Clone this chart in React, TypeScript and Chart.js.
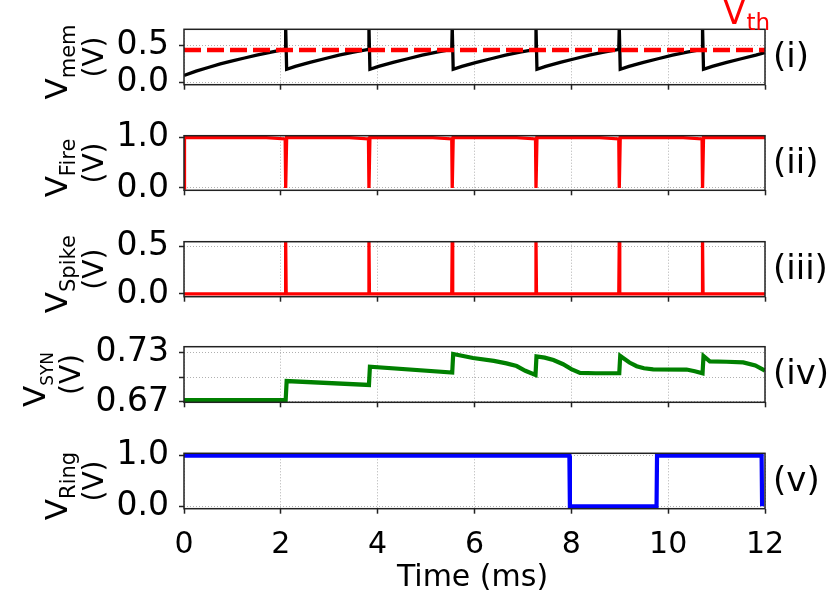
import React, { useEffect, useRef } from "react";
import { Chart, registerables } from "chart.js";

Chart.register(...registerables);

// ---------------- data ----------------
const xTicks = [0, 2, 4, 6, 8, 10, 12];
const xTickLabels = ["0", "2", "4", "6", "8", "10", "12"];
const xTitle = "Time (ms)";

const vthValue = 0.44;
const vthLabelMain = "V";
const vthLabelSub = "th";

const vmemTime = [
  0, 0.25, 0.5, 0.75, 1.0, 1.25, 1.5, 1.75, 2.0, 2.09, 2.1,
  2.12, 2.3, 2.6, 2.9, 3.2, 3.5, 3.81, 3.82,
  3.84, 4.02, 4.32, 4.62, 4.92, 5.22, 5.53, 5.54,
  5.56, 5.74, 6.04, 6.34, 6.64, 6.94, 7.26, 7.27,
  7.29, 7.47, 7.77, 8.07, 8.37, 8.67, 8.98, 8.99,
  9.01, 9.19, 9.49, 9.79, 10.09, 10.39, 10.7, 10.71,
  10.73, 10.91, 11.21, 11.51, 11.81, 12.0,
];
const vmemValue = [
  0.09, 0.15, 0.2, 0.25, 0.29, 0.33, 0.37, 0.405, 0.44, 0.455, 0.76,
  0.175, 0.215, 0.27, 0.32, 0.37, 0.41, 0.45, 0.76,
  0.175, 0.215, 0.27, 0.32, 0.37, 0.41, 0.45, 0.76,
  0.175, 0.215, 0.27, 0.32, 0.37, 0.41, 0.45, 0.76,
  0.175, 0.215, 0.27, 0.32, 0.37, 0.41, 0.45, 0.76,
  0.175, 0.215, 0.27, 0.32, 0.37, 0.41, 0.45, 0.76,
  0.175, 0.215, 0.27, 0.32, 0.37, 0.405,
];

const fireTime = [
  0, 0.01, 1.7, 2.09, 2.1, 2.12,
  3.42, 3.81, 3.82, 3.84,
  5.14, 5.53, 5.54, 5.56,
  6.87, 7.26, 7.27, 7.29,
  8.59, 8.98, 8.99, 9.01,
  10.31, 10.7, 10.71, 10.73,
  12.0,
];
const fireValue = [
  0, 1.0, 1.0, 0.975, 0.0, 1.0,
  1.0, 0.975, 0.0, 1.0,
  1.0, 0.975, 0.0, 1.0,
  1.0, 0.975, 0.0, 1.0,
  1.0, 0.975, 0.0, 1.0,
  1.0, 0.975, 0.0, 1.0,
  1.0,
];

const spikeTime = [
  0, 2.09, 2.1, 2.11, 3.81, 3.82, 3.83, 5.53, 5.54, 5.55,
  7.26, 7.27, 7.28, 8.98, 8.99, 9.0, 10.7, 10.71, 10.72, 12.0,
];
const spikeValue = [
  0, 0, 0.56, 0, 0, 0.56, 0, 0, 0.56, 0,
  0, 0.56, 0, 0, 0.56, 0, 0, 0.56, 0, 0,
];

const synTime = [
  0, 2.1, 2.12, 3.82, 3.84, 5.54, 5.56, 5.97, 6.4, 6.66, 6.87, 7.05, 7.26,
  7.28, 7.45, 7.63, 7.83, 8.0, 8.18, 8.5, 8.99,
  9.01, 9.2, 9.35, 9.5, 9.69, 10.38, 10.55, 10.71,
  10.73, 10.86, 11.2, 11.55, 11.8, 12.0,
];
const synValue = [
  0.6724, 0.6724, 0.6955, 0.6907, 0.7129, 0.7058, 0.7285, 0.7235, 0.72, 0.717, 0.7137, 0.708, 0.703,
  0.7255, 0.724, 0.721, 0.716, 0.71, 0.7055, 0.705, 0.705,
  0.726, 0.718, 0.7135, 0.711, 0.7097, 0.7095, 0.7075, 0.705,
  0.726, 0.7195, 0.719, 0.7182, 0.7145, 0.708,
];

const ringTime = [0, 7.96, 7.97, 9.76, 9.77, 11.93, 11.94];
const ringValue = [1.0, 1.0, 0.0, 0.0, 1.0, 1.0, 0.0];

const yTicks1 = [0, 0.5];
const yTickLabels1 = ["0.0", "0.5"];
const yTicks2 = [0, 1];
const yTickLabels2 = ["0.0", "1.0"];
const yTicks3 = [0, 0.5];
const yTickLabels3 = ["0.0", "0.5"];
const yTicks4 = [0.67, 0.7, 0.73];
const yTickLabels4 = ["0.67", "", "0.73"];
const yTicks5 = [0, 1];
const yTickLabels5 = ["0.0", "1.0"];

const yLabelMain = "V";
const yLabelSubs = ["mem", "Fire", "Spike", "SYN", "Ring"];
const yLabelUnit = "(V)";
const panelTags = ["(i)", "(ii)", "(iii)", "(iv)", "(v)"];

// ---------------- layout / style ----------------
const FONT = '"DejaVu Sans", "Liberation Sans", sans-serif';
const W = 831;
const H = 615;
const PLOT_LEFT = 184;
const PLOT_RIGHT = 765;

type PanelCfg = {
  top: number;
  height: number;
  yMin: number;
  yMax: number;
  yTicks: number[];
  yTickLabels: string[];
  datasets: any[];
  sub: string;
  subSize: number;
  tag: string;
  labelX1: number;
  labelX2: number;
  last: boolean;
  first: boolean;
};

const pts = (xs: number[], ys: number[]) => xs.map((x, i) => ({ x, y: ys[i] }));

const lineDs = (data: any[], color: string, width: number, extra: any = {}) => ({
  data,
  borderColor: color,
  backgroundColor: color,
  borderWidth: width,
  pointRadius: 0,
  tension: 0,
  fill: false,
  ...extra,
});

const panels: PanelCfg[] = [
  {
    top: 29.3, height: 55.4, yMin: -0.037, yMax: 0.725,
    yTicks: yTicks1, yTickLabels: yTickLabels1,
    datasets: [
      lineDs(pts([0, 12], [vthValue, vthValue]), "#ff0000", 4.5, { borderDash: [17, 6], order: 0 }),
      lineDs(pts(vmemTime, vmemValue), "#000000", 3.3, { order: 1 }),
    ],
    sub: yLabelSubs[0], subSize: 21, tag: panelTags[0], labelX1: 67, labelX2: 103, last: false, first: true,
  },
  {
    top: 135.7, height: 54.6, yMin: -0.046, yMax: 1.04,
    yTicks: yTicks2, yTickLabels: yTickLabels2,
    datasets: [lineDs(pts(fireTime, fireValue), "#ff0000", 3.3)],
    sub: yLabelSubs[1], subSize: 21, tag: panelTags[1], labelX1: 67, labelX2: 103, last: false, first: false,
  },
  {
    top: 241.7, height: 55, yMin: -0.029, yMax: 0.553,
    yTicks: yTicks3, yTickLabels: yTickLabels3,
    datasets: [lineDs(pts(spikeTime, spikeValue), "#ff0000", 3.3)],
    sub: yLabelSubs[2], subSize: 21, tag: panelTags[2], labelX1: 67, labelX2: 103, last: false, first: false,
  },
  {
    top: 346.7, height: 55.6, yMin: 0.6696, yMax: 0.7373,
    yTicks: yTicks4, yTickLabels: yTickLabels4,
    datasets: [lineDs(pts(synTime, synValue), "#008000", 4.2)],
    sub: yLabelSubs[3], subSize: 17, tag: panelTags[3], labelX1: 45, labelX2: 80, last: false, first: false,
  },
  {
    top: 453.3, height: 55.4, yMin: -0.047, yMax: 1.047,
    yTicks: yTicks5, yTickLabels: yTickLabels5,
    datasets: [lineDs(pts(ringTime, ringValue), "#0000ff", 4.2)],
    sub: yLabelSubs[4], subSize: 21, tag: panelTags[4], labelX1: 67, labelX2: 103, last: true, first: false,
  },
];

function Panel({ cfg }: { cfg: PanelCfg }) {
  const ref = useRef<HTMLCanvasElement>(null);
  const canvasTop = Math.max(0, Math.floor(cfg.top) - 29);
  const padTop = cfg.top - canvasTop;
  const canvasH = cfg.last ? H - canvasTop : Math.round(padTop + cfg.height + 22);
  const xAxisH = cfg.last ? canvasH - padTop - cfg.height - 2 : 0;
  const padBottom = canvasH - padTop - cfg.height - xAxisH;

  useEffect(() => {
    const textPlugin = {
      id: "panelText",
      afterDraw(chart: any) {
        const ctx = chart.ctx as CanvasRenderingContext2D;
        const a = chart.chartArea;
        const cy = (a.top + a.bottom) / 2;
        ctx.save();
        // frame
        ctx.strokeStyle = "#222";
        ctx.lineWidth = 1.5;
        ctx.strokeRect(a.left, a.top, a.right - a.left, a.bottom - a.top);

        ctx.fillStyle = "#000";
        ctx.textAlign = "left";
        ctx.textBaseline = "alphabetic";

        // rotated y label, line 1: V_sub
        ctx.save();
        ctx.translate(cfg.labelX1, cy);
        ctx.rotate(-Math.PI / 2);
        ctx.font = `31px ${FONT}`;
        const wV = ctx.measureText(yLabelMain).width;
        ctx.font = `${cfg.subSize}px ${FONT}`;
        const wS = ctx.measureText(cfg.sub).width;
        const start = -(wV + wS) / 2 - 5;
        ctx.font = `31px ${FONT}`;
        ctx.fillText(yLabelMain, start, 0);
        ctx.font = `${cfg.subSize}px ${FONT}`;
        ctx.fillText(cfg.sub, start + wV, 8);
        ctx.restore();

        // line 2: (V)
        ctx.save();
        ctx.translate(cfg.labelX2, cy);
        ctx.rotate(-Math.PI / 2);
        ctx.font = `28px ${FONT}`;
        ctx.textAlign = "center";
        ctx.fillText(yLabelUnit, 0, 0);
        ctx.restore();

        // right panel tag
        ctx.font = `34px ${FONT}`;
        ctx.textBaseline = "middle";
        ctx.textAlign = "left";
        ctx.fillText(cfg.tag, 773, cy + 1);

        if (cfg.first) {
          ctx.fillStyle = "#ff0000";
          ctx.textBaseline = "alphabetic";
          ctx.font = `33px ${FONT}`;
          const w = ctx.measureText(vthLabelMain).width;
          ctx.fillText(vthLabelMain, 723, 24);
          ctx.font = `23px ${FONT}`;
          ctx.fillText(vthLabelSub, 723 + w + 1, 30);
        }
        if (cfg.last) {
          ctx.fillStyle = "#000";
          ctx.textBaseline = "alphabetic";
          ctx.textAlign = "center";
          ctx.font = `30px ${FONT}`;
          ctx.fillText(xTitle, (PLOT_LEFT + PLOT_RIGHT) / 2 - 2, 586 - canvasTop);
        }
        ctx.restore();
      },
    };

    const chart = new Chart(ref.current as HTMLCanvasElement, {
      type: "line",
      data: { datasets: cfg.datasets },
      options: {
        animation: false,
        responsive: true,
        maintainAspectRatio: false,
        events: [],
        layout: {
          padding: { top: padTop, left: 0, right: W - PLOT_RIGHT, bottom: padBottom },
          autoPadding: false,
        } as any,
        plugins: {
          legend: { display: false },
          tooltip: { enabled: false },
          title: { display: false },
        },
        scales: {
          x: {
            type: "linear",
            min: 0,
            max: 12,
            afterBuildTicks: (s: any) => {
              s.ticks = xTicks.map((v) => ({ value: v }));
            },
            afterFit: (s: any) => {
              s.height = xAxisH;
              s.paddingLeft = 0;
              s.paddingRight = 0;
            },
            grid: {
              color: "#b0b0b0",
              lineWidth: 1,
              drawTicks: true,
              tickLength: 5,
              tickWidth: 1.5,
              tickColor: "#222",
            },
            border: { display: false, dash: [1, 2] },
            ticks: {
              display: cfg.last,
              autoSkip: false,
              maxRotation: 0,
              padding: 14,
              color: "#000",
              font: { family: FONT, size: 30 },
              callback: (_v: any, i: number) => xTickLabels[i],
            },
          },
          y: {
            type: "linear",
            min: cfg.yMin,
            max: cfg.yMax,
            afterBuildTicks: (s: any) => {
              s.ticks = cfg.yTicks.map((v) => ({ value: v }));
            },
            afterFit: (s: any) => {
              s.width = PLOT_LEFT;
              s.paddingTop = 0;
              s.paddingBottom = 0;
            },
            grid: {
              color: "#b0b0b0",
              lineWidth: 1,
              drawTicks: true,
              tickLength: 5,
              tickWidth: 1.5,
              tickColor: "#222",
            },
            border: { display: false, dash: [1, 2] },
            ticks: {
              autoSkip: false,
              padding: 10,
              color: "#000",
              font: { family: FONT, size: 33 },
              callback: (_v: any, i: number) => cfg.yTickLabels[i],
            },
          },
        },
      } as any,
      plugins: [textPlugin],
    });
    return () => chart.destroy();
  }, []);

  return (
    <div style={{ position: "absolute", left: 0, top: canvasTop, width: W, height: canvasH }}>
      <canvas ref={ref} />
    </div>
  );
}

export default function App() {
  return (
    <div style={{ position: "absolute", left: 0, top: 0, width: W, height: H, background: "#fff" }}>
      {panels.map((p, i) => (
        <Panel key={i} cfg={p} />
      ))}
    </div>
  );
}
